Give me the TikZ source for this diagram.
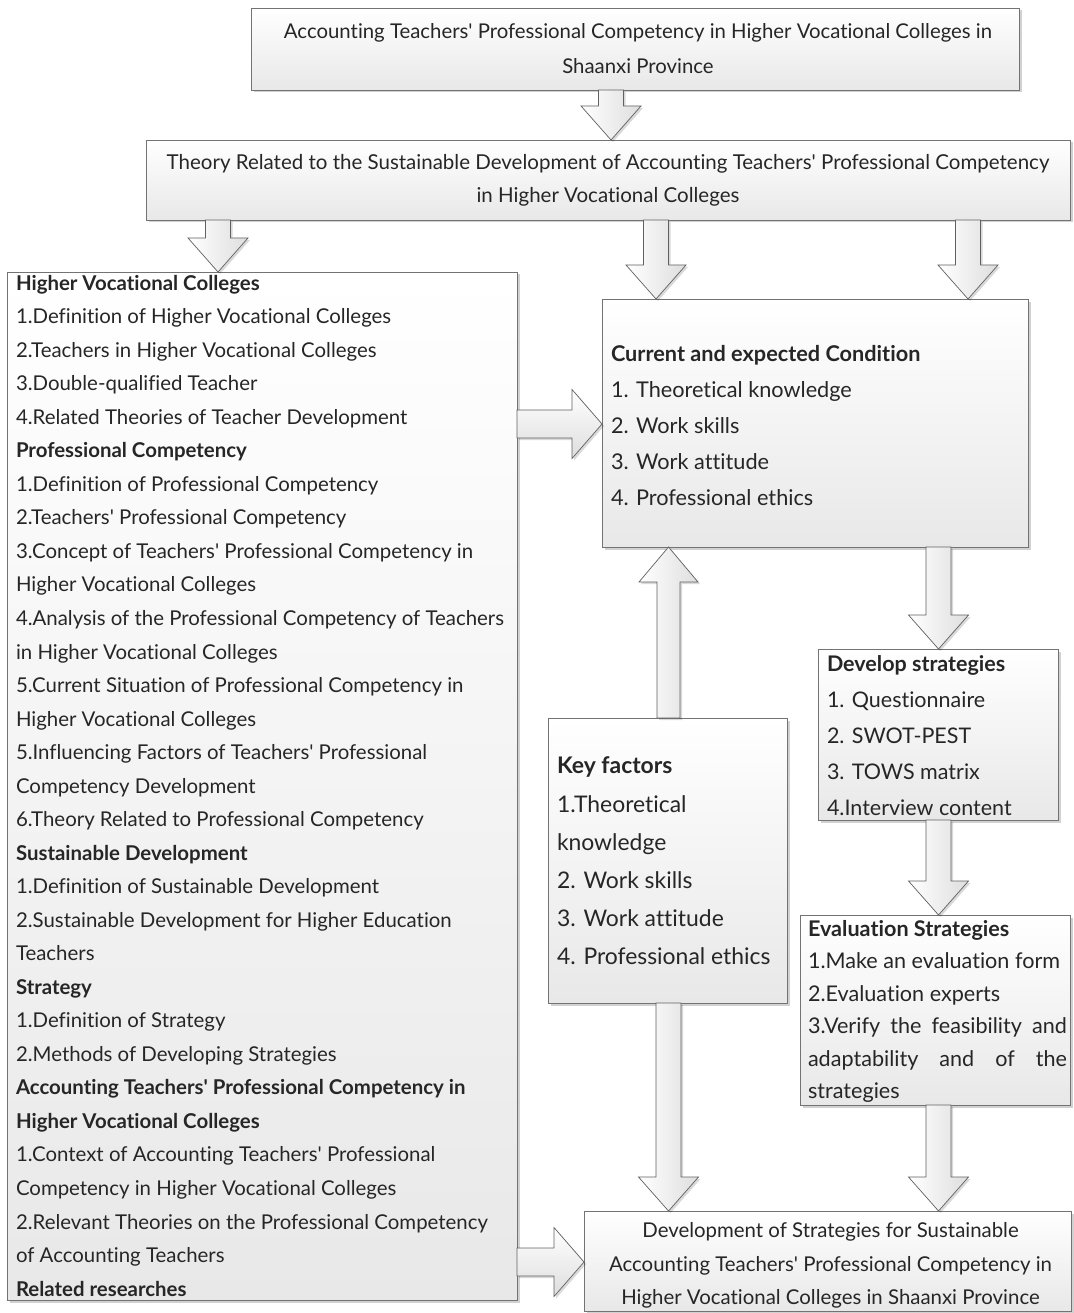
\documentclass[tikz,border=0pt]{standalone}
\usepackage{fontspec}
\setmainfont{Lato}[Ligatures={TeXOff,NoCommon}]
\usetikzlibrary{calc,shadows}
\newcommand{\fTop}{\fontsize{20.35bp}{35bp}\selectfont}
\newcommand{\fThe}{\fontsize{20.5bp}{33bp}\selectfont}
\newcommand{\fFin}{\fontsize{20.4bp}{33.5bp}\selectfont}
\newcommand{\fLeft}{\fontsize{20.4bp}{33.53bp}\selectfont}
\newcommand{\fCur}{\fontsize{21.7bp}{36bp}\selectfont}
\newcommand{\fKey}{\fontsize{22.9bp}{38.2bp}\selectfont}
\newcommand{\fDev}{\fontsize{21.5bp}{35.8bp}\selectfont}
\newcommand{\fEva}{\fontsize{21.6bp}{32.5bp}\selectfont}
\tikzset{
  box/.style={draw=black!55, line width=0.8bp, top color=white, bottom color=black!9,
    inner sep=0pt, outer sep=0pt,
    drop shadow={shadow xshift=2.5bp, shadow yshift=-2.5bp, fill=black, opacity=0.18}},
  barrow/.style={draw=black!62, line width=0.7bp, left color=white, right color=black!13,
    drop shadow={shadow xshift=2bp, shadow yshift=-2bp, fill=black, opacity=0.15}},
  harrow/.style={draw=black!62, line width=0.7bp, top color=white, bottom color=black!13,
    drop shadow={shadow xshift=2bp, shadow yshift=-2bp, fill=black, opacity=0.15}},
  txt/.style={inner sep=0pt, outer sep=0pt, align=left, text=black!85},
  ctxt/.style={inner sep=0pt, outer sep=0pt, align=center, text=black!85},
}
% vertical block arrows: #1 start, #2 tip
\newcommand{\blockdown}[2]{%
  \draw[barrow] let \p1=#1, \p2=#2 in
    (\x1-12.5bp,\y1) -- (\x1-12.5bp,\y2+34bp) -- (\x1-30bp,\y2+34bp) -- (\x1,\y2)
    -- (\x1+30bp,\y2+34bp) -- (\x1+12.5bp,\y2+34bp) -- (\x1+12.5bp,\y1) -- cycle;}
\newcommand{\blockup}[2]{%
  \draw[barrow] let \p1=#1, \p2=#2 in
    (\x1-11.5bp,\y1) -- (\x1-11.5bp,\y2-35bp) -- (\x1-29.5bp,\y2-35bp) -- (\x1,\y2)
    -- (\x1+29.5bp,\y2-35bp) -- (\x1+11.5bp,\y2-35bp) -- (\x1+11.5bp,\y1) -- cycle;}
\newcommand{\blockright}[2]{%
  \draw[harrow] let \p1=#1, \p2=#2 in
    (\x1,\y1+14bp) -- (\x2-30bp,\y1+14bp) -- (\x2-30bp,\y1+34.5bp) -- (\x2,\y1)
    -- (\x2-30bp,\y1-34.5bp) -- (\x2-30bp,\y1-14bp) -- (\x1,\y1-14bp) -- cycle;}
\begin{document}
\begin{tikzpicture}[x=1bp,y=-1bp]
\useasboundingbox (0,0) rectangle (1073,1313);
\fill[white] (0,0) rectangle (1073,1313);

% ---------- boxes ----------
\node[box, anchor=north west, minimum width=768bp, minimum height=82bp] (topb) at (251,8) {};
\node[ctxt, font=\fTop] (toptxt) at ($(topb.center)+(3,0)$) {Accounting Teachers' Professional Competency in Higher Vocational Colleges in\\Shaanxi Province};

\node[box, anchor=north west, minimum width=924bp, minimum height=80bp] (theory) at (146,140) {};
\node[ctxt, font=\fThe] (thetxt) at (theory.center) {Theory Related to the Sustainable Development of Accounting Teachers' Professional Competency\\in Higher Vocational Colleges};

\node[box, anchor=north west, minimum width=510bp, minimum height=1028bp] (left) at (7,272) {};
\node[txt, anchor=north west, font=\fLeft] (lefttxt) at (16,275) {%
\textbf{Higher Vocational Colleges}\\
1.Definition of Higher Vocational Colleges\\
2.Teachers in Higher Vocational Colleges\\
3.Double-qualified Teacher\\
4.Related Theories of Teacher Development\\
\textbf{Professional Competency}\\
1.Definition of Professional Competency\\
2.Teachers' Professional Competency\\
3.Concept of Teachers' Professional Competency in\\
Higher Vocational Colleges\\
4.Analysis of the Professional Competency of Teachers\\
in Higher Vocational Colleges\\
5.Current Situation of Professional Competency in\\
Higher Vocational Colleges\\
5.Influencing Factors of Teachers' Professional\\
Competency Development\\
6.Theory Related to Professional Competency\\
\textbf{Sustainable Development}\\
1.Definition of Sustainable Development\\
2.Sustainable Development for Higher Education\\
Teachers\\
\textbf{Strategy}\\
1.Definition of Strategy\\
2.Methods of Developing Strategies\\
\textbf{Accounting Teachers' Professional Competency in}\\
\textbf{Higher Vocational Colleges}\\
1.Context of Accounting Teachers' Professional\\
Competency in Higher Vocational Colleges\\
2.Relevant Theories on the Professional Competency\\
of Accounting Teachers\\
\textbf{Related researches}};

\node[box, anchor=north west, minimum width=426bp, minimum height=248bp] (cur) at (602,299) {};
\node[txt, anchor=north west, font=\fCur] (curtxt) at (611,345) {%
\textbf{Current and expected Condition}\\
1. Theoretical knowledge\\
2. Work skills\\
3. Work attitude\\
4. Professional ethics};

\node[box, anchor=north west, minimum width=240bp, minimum height=171bp] (dev) at (818,649) {};
\node[txt, anchor=north west, font=\fDev] (devtxt) at (827,656) {%
\textbf{Develop strategies}\\
1. Questionnaire\\
2. SWOT-PEST\\
3. TOWS matrix\\
4.Interview content};

\node[box, anchor=north west, minimum width=239bp, minimum height=285bp] (key) at (548,718) {};
\node[txt, anchor=north west, font=\fKey] (keytxt) at (557,757) {%
\textbf{Key factors}\\
1.Theoretical\\
knowledge\\
2. Work skills\\
3. Work attitude\\
4. Professional ethics};

\node[box, anchor=north west, minimum width=270bp, minimum height=190bp] (eva) at (800,915) {};
\node[txt, anchor=north west, font=\fEva] (evatxt) at (808,920) {%
\textbf{Evaluation Strategies}\\
1.Make an evaluation form\\
2.Evaluation experts\\
\hbox to 259bp{3.Verify\hfill the\hfill feasibility\hfill and}\\
\hbox to 259bp{adaptability\hfill and\hfill of\hfill the}\\
strategies};

\node[box, anchor=north west, minimum width=487bp, minimum height=100bp] (fin) at (584,1211) {};
\node[ctxt, font=\fFin] (fintxt) at ($(fin.center)+(3,4.5)$) {Development of Strategies for Sustainable\\Accounting Teachers' Professional Competency in\\Higher Vocational Colleges in Shaanxi Province};

% ---------- arrow axes ----------
\coordinate (ax1) at (611,0);
\coordinate (ax2) at (218,0);
\coordinate (ax3) at (656,0);
\coordinate (ax4) at (968,0);
\coordinate (ax5) at (938.5,0);
\coordinate (ax6) at (668.5,0);
\coordinate (ay1) at (0,424);
\coordinate (ay2) at (0,1262);

% ---------- connectors ----------
\blockdown{(topb.south -| ax1)}{(theory.north -| ax1)}
\blockdown{(theory.south -| ax2)}{(left.north -| ax2)}
\blockdown{(theory.south -| ax3)}{(cur.north -| ax3)}
\blockdown{(theory.south -| ax4)}{(cur.north -| ax4)}
\blockdown{(cur.south -| ax5)}{(dev.north -| ax5)}
\blockdown{(dev.south -| ax5)}{(eva.north -| ax5)}
\blockdown{(eva.south -| ax5)}{(fin.north -| ax5)}
\blockup{(key.north -| ax6)}{(cur.south -| ax6)}
\blockdown{(key.south -| ax6)}{(fin.north -| ax6)}
\blockright{(left.east |- ay1)}{(cur.west |- ay1)}
\blockright{(left.east |- ay2)}{(fin.west |- ay2)}
\end{tikzpicture}
\end{document}
